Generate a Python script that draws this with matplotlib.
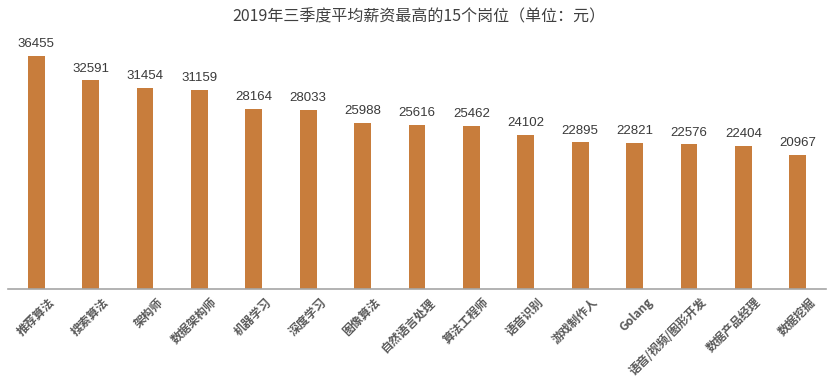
import matplotlib
matplotlib.use("Agg")
import matplotlib.pyplot as plt
import matplotlib.transforms as mtransforms

plt.rcParams['font.family'] = ['Noto Sans CJK SC', 'DejaVu Sans']

categories = ["推荐算法", "搜索算法", "架构师", "数据架构师", "机器学习", "深度学习",
              "图像算法", "自然语言处理", "算法工程师", "语音识别", "游戏制作人", "Golang",
              "语音/视频/图形开发", "数据产品经理", "数据挖掘"]
values = [36455, 32591, 31454, 31159, 28164, 28033, 25988, 25616, 25462,
          24102, 22895, 22821, 22576, 22404, 20967]
title = "2019年三季度平均薪资最高的15个岗位（单位：元）"

W, H = 837, 392
fig = plt.figure(figsize=(W / 100, H / 100), dpi=100)
ax = fig.add_axes([8 / W, 1 - 289 / H, (826 - 8) / W, (289 - 40) / H])

x = list(range(len(categories)))
bars = ax.bar(x, values, width=0.31, color="#C87D3C", zorder=2)
ax.set_xlim(-0.52, len(categories) - 1 + 0.52)
ax.set_ylim(0, 38900)

for xi, v in zip(x, values):
    ax.annotate(str(v), (xi, v), xytext=(0, 4), textcoords="offset points",
                ha="center", va="bottom", fontsize=9.5, color="#3A3A3A",
                family="Liberation Sans")

for s in ["top", "right", "left"]:
    ax.spines[s].set_visible(False)
ax.spines["bottom"].set_color("#A6A6A6")
ax.spines["bottom"].set_linewidth(1.2)
ax.set_yticks([])
ax.set_xticks(x)
ax.set_xticklabels(categories)
ax.tick_params(axis="x", length=0, pad=4)
offset = mtransforms.ScaledTranslation(16 / 100, -6 / 100, fig.dpi_scale_trans)
for lbl in ax.get_xticklabels():
    lbl.set_rotation(45)
    lbl.set_rotation_mode("anchor")
    lbl.set_ha("right")
    lbl.set_va("center")
    lbl.set_fontsize(8.5)
    lbl.set_fontweight("bold")
    lbl.set_color("#595959")
    lbl.set_transform(lbl.get_transform() + offset)

fig.text(0.5, 1 - 17 / H, title, ha="center", va="center", fontsize=11.5, color="#404040")

fig.savefig("out.png", dpi=100, facecolor="white")
